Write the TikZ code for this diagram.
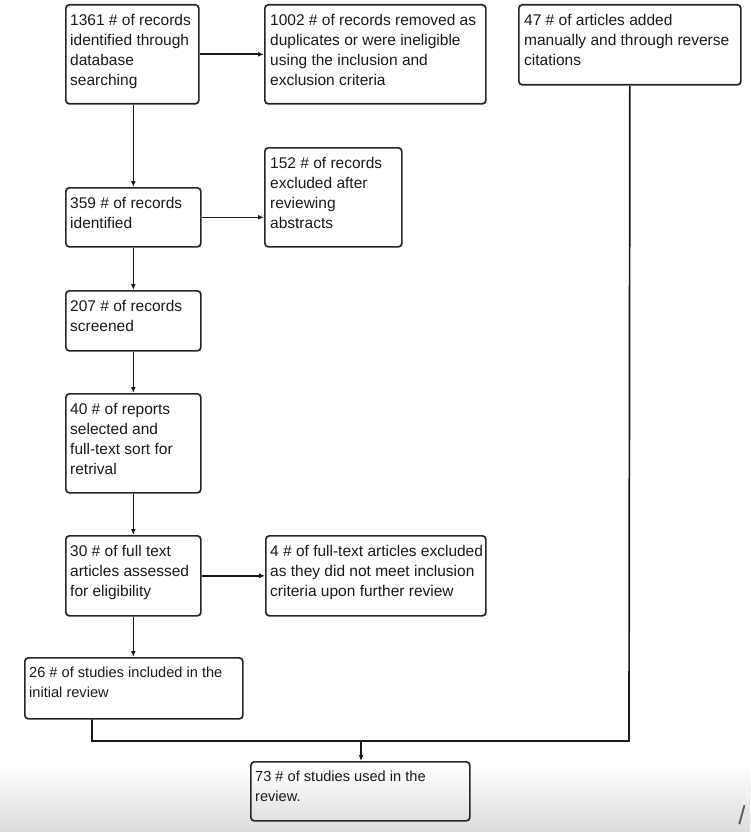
\documentclass[tikz,border=0pt]{standalone}
\usepackage{fontspec}
\setmainfont{Liberation Sans}
\usetikzlibrary{arrows.meta}
\begin{document}
\begin{tikzpicture}[x=1pt,y=-1pt,
  boxst/.style={draw=black!85, line width=1.7pt, rounded corners=3.5pt, inner sep=0pt, anchor=north west},
  txt/.style={anchor=north west, inner sep=0pt, align=left, font=\fontsize{15.5}{20}\selectfont, text=black!90},
  txtn/.style={txt, font=\fontsize{14.6}{20}\selectfont},
  line/.style={draw=black!90, line width=1.7pt},
  arr/.style={line, -{Latex[length=6pt,width=5pt]}}]
\useasboundingbox (0,0) rectangle (750,832);
\shade[top color=white, bottom color=black!14] (0,765) rectangle (750,832);
% boxes
\node[boxst, minimum width=133pt, minimum height=99pt] (A) at (65,4) {};
\node[boxst, minimum width=221pt, minimum height=99pt] (B) at (264,4) {};
\node[boxst, minimum width=222pt, minimum height=80pt] (C) at (518,4) {};
\node[boxst, minimum width=135pt, minimum height=59pt] (D) at (65,187) {};
\node[boxst, minimum width=137pt, minimum height=99pt] (E) at (264,147) {};
\node[boxst, minimum width=135pt, minimum height=60pt] (F) at (65,290) {};
\node[boxst, minimum width=135pt, minimum height=99pt] (G) at (65,393) {};
\node[boxst, minimum width=135pt, minimum height=80pt] (H) at (65,535) {};
\node[boxst, minimum width=220pt, minimum height=80pt] (I) at (265,535) {};
\node[boxst, minimum width=218pt, minimum height=61pt] (J) at (24,657) {};
\node[boxst, minimum width=219pt, minimum height=59pt] (K) at (250,761) {};
% texts
\node[txt] (tA) at ([shift={(5,10)}]A.north west) {1361 \# of records\\identified through\\database\\searching};
\node[txt] (tB) at ([shift={(6,10)}]B.north west) {1002 \# of records removed as\\duplicates or were ineligible\\using the inclusion and\\exclusion criteria};
\node[txt] (tC) at ([shift={(6,10)}]C.north west) {47 \# of articles added\\manually and through reverse\\citations};
\node[txt] (tD) at ([shift={(5,10)}]D.north west) {359 \# of records\\identified};
\node[txt] (tE) at ([shift={(6,10)}]E.north west) {152 \# of records\\excluded after\\reviewing\\abstracts};
\node[txt] (tF) at ([shift={(5,10)}]F.north west) {207 \# of records\\screened};
\node[txt] (tG) at ([shift={(5,10)}]G.north west) {40 \# of reports\\selected and\\full-text sort for\\retrival};
\node[txt] (tH) at ([shift={(5,10)}]H.north west) {30 \# of full text\\articles assessed\\for eligibility};
\node[txt] (tI) at ([shift={(5,10)}]I.north west) {4 \# of full-text articles excluded\\as they did not meet inclusion\\criteria upon further review};
\node[txtn] (tJ) at ([shift={(5,10)}]J.north west) {26 \# of studies included in the\\initial review};
\node[txtn] (tK) at ([shift={(5,10)}]K.north west) {73 \# of studies used in the\\review.};
% connectors
\draw[arr] (A.east) -- (A.east -| B.west);
\draw[arr] (A.south -| D.north) -- (D.north);
\draw[arr] (D.east) -- (D.east -| E.west);
\draw[arr] (D.south) -- (F.north);
\draw[arr] (F.south) -- (G.north);
\draw[arr] (G.south) -- (H.north);
\draw[arr] (H.east) -- (H.east -| I.west);
\draw[arr] (H.south) -- (H.south |- J.north);
\coordinate (jb) at (92,741);
\coordinate (m) at (361,741);
\coordinate (cb) at (629,741);
\draw[line] (J.south -| jb) -- (jb) -- (cb) -- (C.south);
\draw[arr] (m) -- (m |- K.north);
\node[inner sep=0pt, text=black!65, font=\fontsize{26}{26}\selectfont] (sl) at (742,815) {/};
\end{tikzpicture}
\end{document}
